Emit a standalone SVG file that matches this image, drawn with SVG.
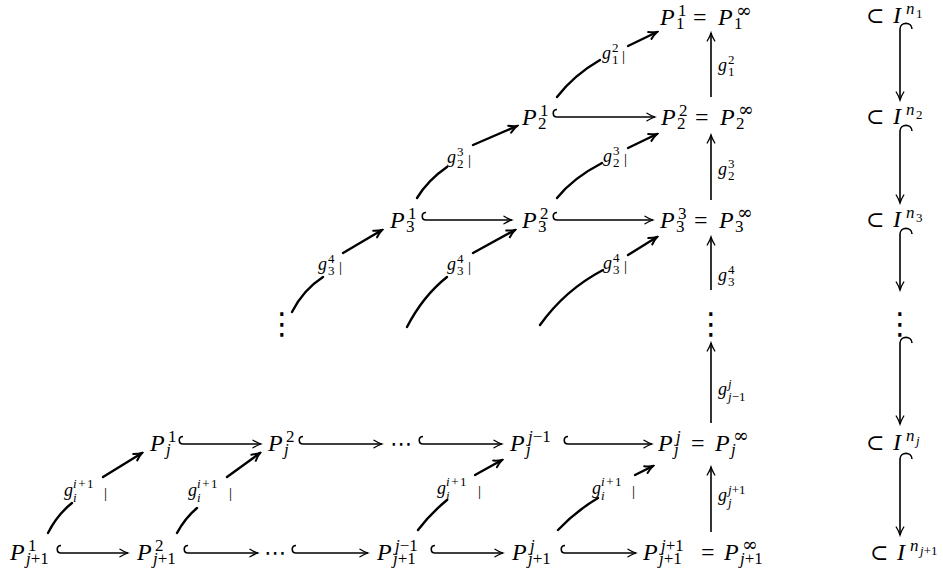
<svg xmlns="http://www.w3.org/2000/svg" width="943" height="575" viewBox="0 0 943 575">
<style>
.t{font-family:"Liberation Serif","DejaVu Serif",serif;font-size:24px;font-style:italic;fill:#000}
.r{font-style:normal}
.s{font-size:17px}
.ss{font-size:13px}
.inf{font-family:"DejaVu Serif",serif;font-style:normal;font-size:19px}
.sub{font-family:"DejaVu Serif",serif;font-style:normal;font-size:22px}
.l{font-family:"Liberation Serif","DejaVu Serif",serif;font-size:18px;font-style:italic;fill:#000}
.bar{font-size:15px;font-style:normal}
.dt{font-family:"DejaVu Sans",sans-serif;font-size:22px;fill:#000}
.vd{font-family:"Noto Sans CJK JP","DejaVu Sans",sans-serif;font-size:30px;fill:#000}
.c{fill:none;stroke:#000;stroke-width:1.6}
.d{fill:none;stroke:#000;stroke-width:2.4;stroke-linecap:round}
</style>
<defs>
<marker id="a" viewBox="-10 -6 12 12" refX="0" refY="0" markerWidth="12" markerHeight="12" markerUnits="userSpaceOnUse" orient="auto"><path d="M-8,-3.8 Q-3.5,-1 0,0 Q-3.5,1 -8,3.8" fill="none" stroke="#000" stroke-width="1.3" stroke-linecap="round"/></marker>
<marker id="b" viewBox="-10 -6 12 12" refX="0" refY="0" markerWidth="12" markerHeight="12" markerUnits="userSpaceOnUse" orient="auto"><path d="M-8,-3.8 Q-3.5,-1 0,0 Q-3.5,1 -8,3.8" fill="none" stroke="#000" stroke-width="2" stroke-linecap="round"/></marker>
</defs>

<g id="n11"><text class="t" x="660" y="25">P<tspan class="s r" x="678" y="16">1</tspan><tspan class="s r" x="676" y="29">1</tspan><tspan class="r" x="693" y="25">=</tspan><tspan x="718" y="25">P</tspan><tspan class="inf" x="736" y="17">∞</tspan><tspan class="s r" x="734" y="29">1</tspan></text></g>

<g id="n21"><text class="t" x="522" y="125">P<tspan class="s r" x="540" y="116">1</tspan><tspan class="s r" x="538" y="129">2</tspan></text></g>
<g id="n22"><text class="t" x="661" y="125">P<tspan class="s r" x="679" y="116">2</tspan><tspan class="s r" x="677" y="129">2</tspan><tspan class="r" x="695" y="125">=</tspan><tspan x="720" y="125">P</tspan><tspan class="inf" x="738" y="116">∞</tspan><tspan class="s r" x="736" y="129">2</tspan></text></g>

<g id="n31"><text class="t" x="390" y="228">P<tspan class="s r" x="408" y="219">1</tspan><tspan class="s r" x="406" y="232">3</tspan></text></g>
<g id="n32"><text class="t" x="522" y="228">P<tspan class="s r" x="540" y="219">2</tspan><tspan class="s r" x="538" y="232">3</tspan></text></g>
<g id="n33"><text class="t" x="660" y="228">P<tspan class="s r" x="678" y="219">3</tspan><tspan class="s r" x="676" y="232">3</tspan><tspan class="r" x="694" y="228">=</tspan><tspan x="719" y="228">P</tspan><tspan class="inf" x="737" y="219">∞</tspan><tspan class="s r" x="735" y="232">3</tspan></text></g>

<g id="vd1"><text class="vd" x="282" y="334" text-anchor="middle">⋮</text></g>
<g id="vd2"><text class="vd" x="711" y="334" text-anchor="middle">⋮</text></g>

<g id="nj1"><text class="t" x="150" y="451">P<tspan class="s r" x="168" y="442">1</tspan><tspan class="s" x="166" y="455">j</tspan></text></g>
<g id="nj2"><text class="t" x="268" y="451">P<tspan class="s r" x="286" y="442">2</tspan><tspan class="s" x="284" y="455">j</tspan></text></g>
<g id="njd"><text class="dt" x="390" y="451">⋯</text></g>
<g id="njj1"><text class="t" x="510" y="451">P<tspan class="s" x="528" y="442">j<tspan class="r">−1</tspan></tspan><tspan class="s" x="526" y="455">j</tspan></text></g>
<g id="njj"><text class="t" x="658" y="451">P<tspan class="s" x="676" y="442">j</tspan><tspan class="s" x="674" y="455">j</tspan><tspan class="r" x="691" y="451">=</tspan><tspan x="715" y="451">P</tspan><tspan class="inf" x="733" y="442">∞</tspan><tspan class="s" x="731" y="455">j</tspan></text></g>

<g id="nk1"><text class="t" x="10" y="560">P<tspan class="s r" x="28" y="551">1</tspan><tspan class="s" x="26" y="564">j<tspan class="r">+1</tspan></tspan></text></g>
<g id="nk2"><text class="t" x="137" y="560">P<tspan class="s r" x="155" y="551">2</tspan><tspan class="s" x="153" y="564">j<tspan class="r">+1</tspan></tspan></text></g>
<g id="nkd"><text class="dt" x="264" y="560">⋯</text></g>
<g id="nkj1"><text class="t" x="377" y="560">P<tspan class="s" x="395" y="551">j<tspan class="r">−1</tspan></tspan><tspan class="s" x="393" y="564">j<tspan class="r">+1</tspan></tspan></text></g>
<g id="nkj"><text class="t" x="512" y="560">P<tspan class="s" x="530" y="551">j</tspan><tspan class="s" x="528" y="564">j<tspan class="r">+1</tspan></tspan></text></g>
<g id="nkk"><text class="t" x="643" y="560">P<tspan class="s" x="661" y="551">j<tspan class="r">+1</tspan></tspan><tspan class="s" x="659" y="564">j<tspan class="r">+1</tspan></tspan><tspan class="r" x="701" y="560">=</tspan><tspan x="724" y="560">P</tspan><tspan class="inf" x="742" y="551">∞</tspan><tspan class="s" x="740" y="564">j<tspan class="r">+1</tspan></tspan></text></g>

<g id="i1"><text class="t" x="893" y="23"><tspan class="sub" x="866" y="23">⊂</tspan><tspan x="893" y="23">I</tspan><tspan class="s" x="906" y="14">n</tspan><tspan class="ss r" x="916" y="18">1</tspan></text></g>
<g id="i2"><text class="t" x="893" y="124"><tspan class="sub" x="866" y="124">⊂</tspan><tspan x="893" y="124">I</tspan><tspan class="s" x="906" y="115">n</tspan><tspan class="ss r" x="916" y="119">2</tspan></text></g>
<g id="i3"><text class="t" x="893" y="227"><tspan class="sub" x="866" y="227">⊂</tspan><tspan x="893" y="227">I</tspan><tspan class="s" x="906" y="218">n</tspan><tspan class="ss r" x="916" y="222">3</tspan></text></g>
<g id="id"><text class="vd" x="900" y="334" text-anchor="middle">⋮</text></g>
<g id="ij"><text class="t" x="893" y="450"><tspan class="sub" x="866" y="450">⊂</tspan><tspan x="893" y="450">I</tspan><tspan class="s" x="906" y="441">n</tspan><tspan class="ss" x="916" y="445">j</tspan></text></g>
<g id="ik"><text class="t" x="897" y="560"><tspan class="sub" x="870" y="560">⊂</tspan><tspan x="897" y="560">I</tspan><tspan class="s" x="910" y="551">n</tspan><tspan class="ss" x="920" y="555">j<tspan class="r">+1</tspan></tspan></text></g>

<g id="connectors">
<path class="c" marker-end="url(#a)" d="M557,109.5 C552,109.5 552,117 557,117 L655,117"/>
<path class="c" marker-end="url(#a)" d="M426,212.5 C421,212.5 421,220 426,220 L512,220"/>
<path class="c" marker-end="url(#a)" d="M557,212.5 C552,212.5 552,220 557,220 L653,220"/>
<path class="c" marker-end="url(#a)" d="M183,436.5 C178,436.5 178,444 183,444 L261,444"/>
<path class="c" marker-end="url(#a)" d="M303,436.5 C298,436.5 298,444 303,444 L382,444"/>
<path class="c" marker-end="url(#a)" d="M423,436.5 C418,436.5 418,444 423,444 L502,444"/>
<path class="c" marker-end="url(#a)" d="M568,436.5 C563,436.5 563,444 568,444 L652,444"/>
<path class="c" marker-end="url(#a)" d="M61,545.5 C56,545.5 56,553 61,553 L128,553"/>
<path class="c" marker-end="url(#a)" d="M188,545.5 C183,545.5 183,553 188,553 L258,553"/>
<path class="c" marker-end="url(#a)" d="M296,545.5 C291,545.5 291,553 296,553 L368,553"/>
<path class="c" marker-end="url(#a)" d="M435,545.5 C430,545.5 430,553 435,553 L503,553"/>
<path class="c" marker-end="url(#a)" d="M565,545.5 C560,545.5 560,553 565,553 L636,553"/>
<path class="c" marker-end="url(#a)" d="M711,97 L711,33"/>
<path class="c" marker-end="url(#a)" d="M711,200 L711,135"/>
<path class="c" marker-end="url(#a)" d="M711,290 L711,237"/>
<path class="c" marker-end="url(#a)" d="M711,423 L711,343"/>
<path class="c" marker-end="url(#a)" d="M711,532 L711,467"/>
<text class="l" x="718" y="71">g<tspan class="ss r" x="728" y="64">2</tspan><tspan class="ss r" x="728" y="76">1</tspan></text>
<text class="l" x="718" y="175">g<tspan class="ss r" x="728" y="168">3</tspan><tspan class="ss r" x="728" y="180">2</tspan></text>
<text class="l" x="718" y="281">g<tspan class="ss r" x="728" y="274">4</tspan><tspan class="ss r" x="728" y="286">3</tspan></text>
<text class="l" x="718" y="395">g<tspan class="ss" x="728" y="388">j</tspan><tspan class="ss" x="728" y="401">j<tspan class="r">−1</tspan></tspan></text>
<text class="l" x="718" y="501">g<tspan class="ss" x="728" y="494">j<tspan class="r">+1</tspan></tspan><tspan class="ss" x="728" y="507">j</tspan></text>
<path class="c" marker-end="url(#a)" d="M912,29 C912,21.5 900,21.5 900,29 L900,100"/>
<path class="c" marker-end="url(#a)" d="M912,131 C912,123.5 900,123.5 900,131 L900,203"/>
<path class="c" marker-end="url(#a)" d="M912,234 C912,226.5 900,226.5 900,234 L900,290"/>
<path class="c" marker-end="url(#a)" d="M912,343 C912,335.5 900,335.5 900,343 L900,424"/>
<path class="c" marker-end="url(#a)" d="M912,459 C912,451.5 900,451.5 900,459 L900,535"/>
<path class="d" d="M557,97 Q574,75 600,60"/><path class="d" marker-end="url(#b)" d="M628,46 L657,32"/>
<text class="l" x="602" y="59">g<tspan class="ss r" x="612" y="52">2</tspan><tspan class="ss r" x="612" y="64">1</tspan><tspan class="bar" x="622" y="61">|</tspan></text>
<path class="d" d="M417,198 Q428,180 447,167"/><path class="d" marker-end="url(#b)" d="M473,145 L517,126"/>
<text class="l" x="447" y="163">g<tspan class="ss r" x="457" y="156">3</tspan><tspan class="ss r" x="457" y="168">2</tspan><tspan class="bar" x="468" y="165">|</tspan></text>
<path class="d" d="M557,198 Q573,178 602,163"/><path class="d" marker-end="url(#b)" d="M628,148 L657,134"/>
<text class="l" x="603" y="162">g<tspan class="ss r" x="613" y="155">3</tspan><tspan class="ss r" x="613" y="167">2</tspan><tspan class="bar" x="624" y="164">|</tspan></text>
<path class="d" d="M292,312 Q303,290 323,277"/><path class="d" marker-end="url(#b)" d="M343,253 L382,230"/>
<text class="l" x="318" y="270">g<tspan class="ss r" x="328" y="263">4</tspan><tspan class="ss r" x="328" y="275">3</tspan><tspan class="bar" x="339" y="272">|</tspan></text>
<path class="d" d="M407,327 Q423,296 447,277"/><path class="d" marker-end="url(#b)" d="M473,253 L515,230"/>
<text class="l" x="447" y="270">g<tspan class="ss r" x="457" y="263">4</tspan><tspan class="ss r" x="457" y="275">3</tspan><tspan class="bar" x="468" y="272">|</tspan></text>
<path class="d" d="M540,325 Q565,290 603,270"/><path class="d" marker-end="url(#b)" d="M628,255 L657,237"/>
<text class="l" x="603" y="269">g<tspan class="ss r" x="613" y="262">4</tspan><tspan class="ss r" x="613" y="274">3</tspan><tspan class="bar" x="624" y="271">|</tspan></text>
<path class="d" d="M48,533 Q57,515 72,503"/><path class="d" marker-end="url(#b)" d="M103,477 L142,453"/>
<text class="l" x="64" y="496">g<tspan class="ss" x="73" y="488">i<tspan class="r" dx="1.5">+</tspan><tspan class="r" dx="1.5">1</tspan></tspan><tspan class="ss" x="73" y="502">i</tspan><tspan class="bar" x="104" y="498">|</tspan></text>
<path class="d" d="M177,533 Q185,518 197,508"/><path class="d" marker-end="url(#b)" d="M227,477 L260,453"/>
<text class="l" x="188" y="496">g<tspan class="ss" x="197" y="488">i<tspan class="r" dx="1.5">+</tspan><tspan class="r" dx="1.5">1</tspan></tspan><tspan class="ss" x="197" y="502">i</tspan><tspan class="bar" x="229" y="498">|</tspan></text>
<path class="d" d="M418,530 Q430,514 447,500"/><path class="d" marker-end="url(#b)" d="M475,475 L502,460"/>
<text class="l" x="437" y="494">g<tspan class="ss" x="446" y="486">i<tspan class="r" dx="1.5">+</tspan><tspan class="r" dx="1.5">1</tspan></tspan><tspan class="ss" x="446" y="500">i</tspan><tspan class="bar" x="478" y="496">|</tspan></text>
<path class="d" d="M558,530 Q576,511 598,498"/><path class="d" marker-end="url(#b)" d="M635,475 L653,466"/>
<text class="l" x="592" y="494">g<tspan class="ss" x="601" y="486">i<tspan class="r" dx="1.5">+</tspan><tspan class="r" dx="1.5">1</tspan></tspan><tspan class="ss" x="601" y="500">i</tspan><tspan class="bar" x="632" y="496">|</tspan></text>
</g>
</svg>
